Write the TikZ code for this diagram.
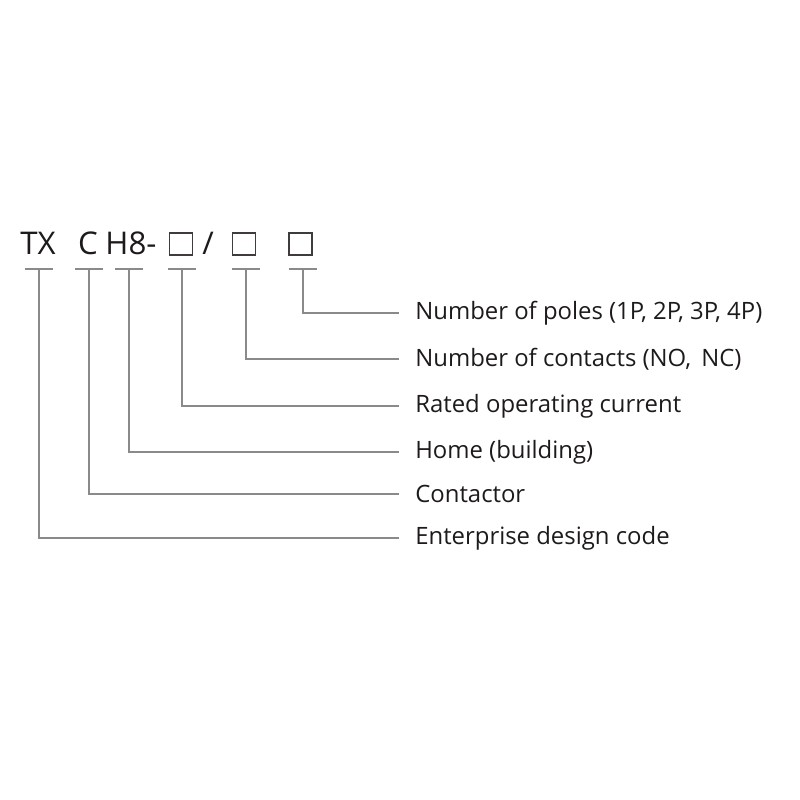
\documentclass[tikz,border=0pt]{standalone}
\usepackage{fontspec}
\setmainfont{Open Sans}
\usetikzlibrary{positioning}
\definecolor{inkdark}{HTML}{1E1A1B}
\definecolor{leadgray}{HTML}{8A8A8A}

\begin{document}
\begin{tikzpicture}[x=0.02cm, y=-0.02cm,
  code/.style={font=\fontsize{17.8}{20}\selectfont, text=inkdark, inner sep=0pt, anchor=base},
  slot/.style={rectangle, draw=inkdark!85, line width=1pt, minimum width=0.46cm, minimum height=0.44cm, inner sep=0pt},
  desc/.style={font=\fontsize{13.6}{16}\selectfont, text=inkdark, anchor=west, inner xsep=0.32cm, inner ysep=0pt},
  lead/.style={draw=leadgray, line width=1.1pt}]

\useasboundingbox (0,0) rectangle (800,800);

% model code
\node[code] (tx) at (38,255) {TX};
\node[code] (c) at (88,255) {C};
\node[code] (h8) at (131,255) {H8-};
\node[slot] (slota) at (181,244) {};
\node[code] (slash) at (208,255) {/};
\node[slot] (slotb) at (244,244) {};
\node[slot] (slotc) at (300.5,244) {};

% underlines
\coordinate (utx) at (39,269);
\coordinate (uc) at (89,269);
\coordinate (uh8) at (129,269);
\coordinate (ua) at (182,269);
\coordinate (ub) at (246,269);
\coordinate (uc2) at (303,269);
\draw[lead] ([xshift=-0.28cm]utx) -- ([xshift=0.28cm]utx);
\draw[lead] ([xshift=-0.28cm]uc) -- ([xshift=0.28cm]uc);
\draw[lead] ([xshift=-0.28cm]uh8) -- ([xshift=0.28cm]uh8);
\draw[lead] ([xshift=-0.28cm]ua) -- ([xshift=0.28cm]ua);
\draw[lead] ([xshift=-0.28cm]ub) -- ([xshift=0.28cm]ub);
\draw[lead] ([xshift=-0.28cm]uc2) -- ([xshift=0.28cm]uc2);

% descriptions
\node[desc] (poles) at (399,313) {Number of poles (1P, 2P, 3P, 4P)};
\node[desc] (contacts) at (399,359) {Number of contacts (NO,\, NC)};
\node[desc] (rated) at (399,406) {Rated operating current};
\node[desc] (home) at (399,452) {Home (building)};
\node[desc] (contactor) at (399,494) {Contactor};
\node[desc] (enterprise) at (399,538) {Enterprise design code};

\draw[lead] (uc2) |- (poles.west);
\draw[lead] (ub) |- (contacts.west);
\draw[lead] (ua) |- (rated.west);
\draw[lead] (uh8) |- (home.west);
\draw[lead] (uc) |- (contactor.west);
\draw[lead] (utx) |- (enterprise.west);

\end{tikzpicture}
\end{document}
